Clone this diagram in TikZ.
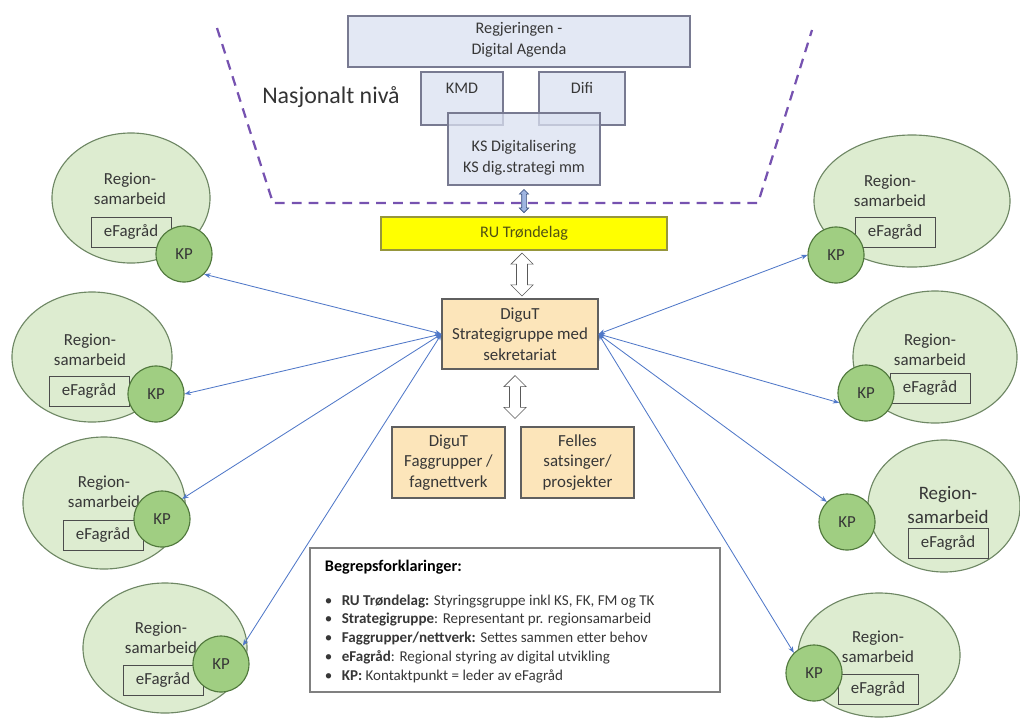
\documentclass[tikz,border=0pt]{standalone}
\usepackage{fontspec}
\setmainfont{Carlito}
\usetikzlibrary{shapes.geometric, shapes.arrows, arrows.meta, positioning, calc}

\definecolor{govfill}{RGB}{218,224,240}
\definecolor{govline}{RGB}{120,122,145}
\definecolor{natpurple}{RGB}{118,82,176}
\definecolor{rufill}{RGB}{255,255,0}
\definecolor{ruline}{RGB}{150,150,60}
\definecolor{rutext}{RGB}{80,80,20}
\definecolor{digfill}{RGB}{252,229,186}
\definecolor{digline}{RGB}{95,95,95}
\definecolor{regfill}{RGB}{221,236,208}
\definecolor{regline}{RGB}{110,135,100}
\definecolor{kpfill}{RGB}{160,206,130}
\definecolor{kpline}{RGB}{80,120,60}
\definecolor{linkblue}{RGB}{80,120,200}
\definecolor{boxtext}{RGB}{55,55,55}

\begin{document}
\begin{tikzpicture}[x=0.025cm, y=-0.025cm]
    % --- Style Definitions ---
    \tikzset{
        % National level boxes (semi transparent)
        gov box/.style={
            draw=govline,
            fill=govfill,
            fill opacity=0.75,
            text opacity=1,
            thick
        },
        % Regional steering box
        ru box/.style={
            draw=ruline,
            fill=rufill,
            thick,
            text=rutext,
            font=\fontsize{11.5}{14}\selectfont
        },
        % DiguT boxes
        dig box/.style={
            draw=digline,
            fill=digfill,
            thick,
            align=center,
            text=boxtext,
            font=\fontsize{12}{14.5}\selectfont
        },
        % Plain box text
        box text/.style={
            align=center,
            text=boxtext,
            font=\fontsize{11.5}{15}\selectfont
        },
        % Region ellipses
        region/.style={
            ellipse,
            draw=regline,
            fill=regfill,
            thick
        },
        region text/.style={
            align=center,
            text=boxtext,
            font=\fontsize{12}{14.5}\selectfont
        },
        % eFagraad box inside the region
        ef box/.style={
            draw=black!70,
            semithick,
            minimum width=2cm,
            minimum height=0.75cm,
            text=boxtext,
            font=\fontsize{12}{14}\selectfont
        },
        % Contact point circle
        kp circle/.style={
            circle,
            draw=kpline,
            fill=kpfill,
            thick,
            minimum size=1.4cm,
            inner sep=0pt,
            text=boxtext,
            font=\fontsize{12}{14}\selectfont
        },
        % Hollow double arrow
        hollow arrow/.style={
            double arrow,
            draw=gray!70!black,
            fill=white,
            rotate=90,
            inner sep=0.13cm,
            minimum width=0pt,
            minimum height=1.07cm,
            double arrow head extend=0.14cm
        },
        % Arrow styling
        link arrow/.style={
            {Stealth[length=4.5pt,width=3.5pt]}-{Stealth[length=4.5pt,width=3.5pt]},
            draw=linkblue,
            line width=0.6pt
        }
    }

    \useasboundingbox (0,0) rectangle (1020,718);

    % --- 1. National level ---
    \draw[natpurple, line width=1.6pt, dash pattern=on 7pt off 5pt]
        (217,28) -- (273,203) -- (758,203) -- (812,30);

    \node[gov box, minimum width=8.55cm, minimum height=1.275cm] (regj) at (519,41.5) {};
    \node[box text] (regjtxt) at (519,40) {Regjeringen -\\Digital Agenda};

    \node[gov box, minimum width=2.05cm, minimum height=1.325cm] (kmd) at (462,98.5) {};
    \node[box text] (kmdtxt) at (462,88) {KMD};
    \node[gov box, minimum width=2.15cm, minimum height=1.325cm] (difi) at (582,98.5) {};
    \node[box text] (difitxt) at (582,88) {Difi};

    \node[gov box, minimum width=3.8cm, minimum height=1.8cm] (ks) at (524,149) {};
    \node[box text] (kstxt) at (524,158) {KS Digitalisering\\KS dig.strategi mm};

    \node[text=black!80, font=\fontsize{17}{19}\selectfont] (nasj) at (331,97) {Nasjonalt nivå};

    % --- 2. RU and DiguT ---
    \node[ru box, minimum width=7.15cm, minimum height=0.825cm] (ru) at (524,233.5) {RU Trøndelag};

    \node[double arrow, draw=linkblue!60!black, fill=linkblue!55, rotate=90, inner sep=0.05cm,
          minimum width=0pt, minimum height=0.58cm, double arrow head extend=0.06cm]
        (nasjarrow) at ($(ks.south)!0.5!(ru.north)$) {};

    \node[dig box, minimum width=3.9cm, minimum height=1.75cm] (digut) at (520,334)
        {DiguT\\Strategigruppe med\\sekretariat};
    \node[hollow arrow] (ruarrow) at ($(ru.south)!0.5!(digut.north)$) {};

    \node[dig box, minimum width=2.825cm, minimum height=1.775cm] (fag) at (448.5,462.5)
        {DiguT\\Faggrupper /\\fagnettverk};
    \node[dig box, minimum width=2.825cm, minimum height=1.775cm] (felles) at (577.5,462.5)
        {Felles\\satsinger/\\prosjekter};
    \node[hollow arrow] (fagarrow) at (515,397) {};

    % --- 3. Regions (left) ---
    \node[region, minimum width=3.95cm, minimum height=3.25cm] (reg1) at (131,198) {};
    \node[region text] (reg1txt) at (130,189) {Region-\\samarbeid};
    \node[ef box] (ef1) at (131,232) {eFagråd};
    \node[kp circle] (kp1) at (184,254) {KP};

    \node[region, minimum width=4cm, minimum height=3.25cm] (reg2) at (92,357) {};
    \node[region text] (reg2txt) at (90,350) {Region-\\samarbeid};
    \node[ef box] (ef2) at (89,391) {eFagråd};
    \node[kp circle] (kp2) at (156,394) {KP};

    \node[region, minimum width=4.05cm, minimum height=3.3cm] (reg3) at (104,503) {};
    \node[region text] (reg3txt) at (104,492) {Region-\\samarbeid};
    \node[ef box] (ef3) at (103,535) {eFagråd};
    \node[kp circle] (kp3) at (162,519) {KP};

    \node[region, minimum width=4.1cm, minimum height=3.25cm] (reg4) at (165,648) {};
    \node[region text] (reg4txt) at (161,638) {Region-\\samarbeid};
    \node[ef box] (ef4) at (163,680) {eFagråd};
    \node[kp circle] (kp4) at (221,664) {KP};

    % --- 4. Regions (right) ---
    \node[region, minimum width=4.9cm, minimum height=3.3cm] (reg5) at (912,201) {};
    \node[region text] (reg5txt) at (890,191) {Region-\\samarbeid};
    \node[ef box] (ef5) at (895,232) {eFagråd};
    \node[kp circle] (kp5) at (836,255) {KP};

    \node[region, minimum width=4.1cm, minimum height=3.3cm] (reg6) at (935,357) {};
    \node[region text] (reg6txt) at (930,350) {Region-\\samarbeid};
    \node[ef box] (ef6) at (930,388) {eFagråd};
    \node[kp circle] (kp6) at (866,393) {KP};

    \node[region, minimum width=3.8cm, minimum height=3.3cm] (reg7) at (944,506) {};
    \node[region text, font=\fontsize{13.5}{17}\selectfont] (reg7txt) at (948,505) {Region-\\samarbeid};
    \node[ef box] (ef7) at (948,543) {eFagråd};
    \node[kp circle] (kp7) at (847,522) {KP};

    \node[region, minimum width=4.05cm, minimum height=3.1cm] (reg8) at (879,655) {};
    \node[region text] (reg8txt) at (878,647) {Region-\\samarbeid};
    \node[ef box] (ef8) at (878,689) {eFagråd};
    \node[kp circle] (kp8) at (814,673) {KP};

    % --- 5. Links from DiguT to the contact points ---
    \draw[link arrow] (digut.west) -- (kp1.south east);
    \draw[link arrow] (digut.west) -- (kp2.east);
    \draw[link arrow] (digut.west) -- (kp3.north east);
    \draw[link arrow] (digut.west) -- (kp4.40);
    \draw[link arrow] (digut.east) -- (kp5.west);
    \draw[link arrow] (digut.east) -- (kp6.200);
    \draw[link arrow] (digut.east) -- (kp7.north west);
    \draw[link arrow] (digut.east) -- (kp8.north west);

    % --- 6. Legend ---
    \node[draw=gray, thick, fill=white, minimum width=10.25cm, minimum height=3.6cm] (legend) at (515,620) {};
    \node[anchor=west, font=\fontsize{11.5}{13}\selectfont\bfseries] (legtitle) at (320,567) {Begrepsforklaringer:};
    \node[anchor=west, text=boxtext, font=\fontsize{10.7}{13}\selectfont] (leg1) at (320,602)
        {\makebox[12pt][l]{•}\textbf{RU Trøndelag:} Styringsgruppe inkl KS, FK, FM og TK};
    \node[anchor=west, text=boxtext, font=\fontsize{10.7}{13}\selectfont] (leg2) at (320,620)
        {\makebox[12pt][l]{•}\textbf{Strategigruppe}: Representant pr. regionsamarbeid};
    \node[anchor=west, text=boxtext, font=\fontsize{10.7}{13}\selectfont] (leg3) at (320,638)
        {\makebox[12pt][l]{•}\textbf{Faggrupper/nettverk:} Settes sammen etter behov};
    \node[anchor=west, text=boxtext, font=\fontsize{10.7}{13}\selectfont] (leg4) at (320,657)
        {\makebox[12pt][l]{•}\textbf{eFagråd}: Regional styring av digital utvikling};
    \node[anchor=west, text=boxtext, font=\fontsize{10.7}{13}\selectfont] (leg5) at (320,676)
        {\makebox[12pt][l]{•}\textbf{KP:} Kontaktpunkt = leder av eFagråd};

\end{tikzpicture}
\end{document}
